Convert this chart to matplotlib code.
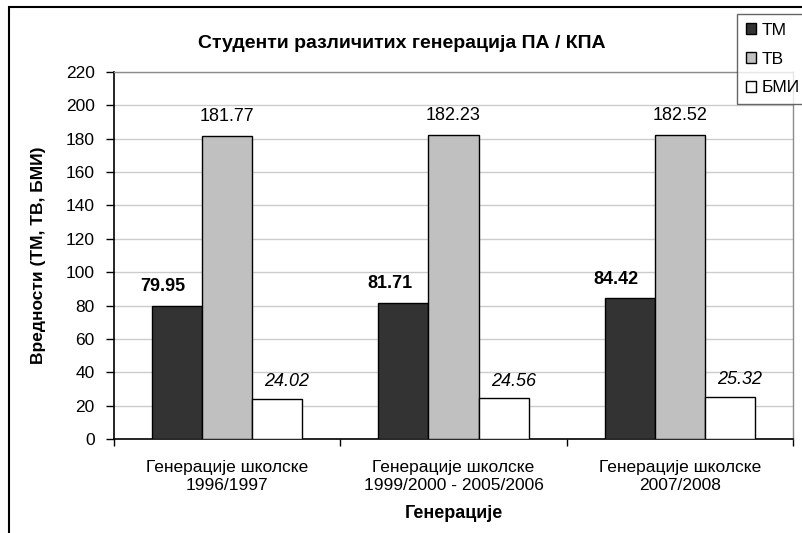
import matplotlib
matplotlib.use('Agg')
import matplotlib.pyplot as plt
import numpy as np
from matplotlib.patches import Rectangle

plt.rcParams['font.family'] = ['Liberation Sans', 'DejaVu Sans']

categories = ['Генерације школске\n1996/1997',
              'Генерације школске\n1999/2000 - 2005/2006',
              'Генерације школске\n2007/2008']
tm = [79.95, 81.71, 84.42]
tv = [181.77, 182.23, 182.52]
bmi = [24.02, 24.56, 25.32]
series_names = ['ТМ', 'ТВ', 'БМИ']
yticks = np.arange(0, 221, 20)

fig = plt.figure(figsize=(8.02, 5.33), dpi=100)
ax = fig.add_axes([114/802, 1-439/533, (793-114)/802, (439-72)/533])

x = np.arange(len(categories))
w = 0.221
b1 = ax.bar(x - w, tm, w, color='#333333', edgecolor='black', linewidth=1, label=series_names[0], zorder=3)
b2 = ax.bar(x, tv, w, color='#c0c0c0', edgecolor='black', linewidth=1, label=series_names[1], zorder=3)
b3 = ax.bar(x + w, bmi, w, color='white', edgecolor='black', linewidth=1, label=series_names[2], zorder=3)

# value labels
for xi, v in zip(x, tm):
    ax.annotate(f'{v:.2f}', (xi - w, v), xytext=(-10, 10.5), textcoords='offset points',
                ha='center', va='baseline', fontsize=13, fontweight='bold')
for xi, v in zip(x, tv):
    ax.annotate(f'{v:.2f}', (xi, v), xytext=(0, 10.5), textcoords='offset points',
                ha='center', va='baseline', fontsize=13)
for xi, v in zip(x, bmi):
    ax.annotate(f'{v:.2f}', (xi + w, v), xytext=(7, 9), textcoords='offset points',
                ha='center', va='baseline', fontsize=13, style='italic')

ax.set_xlim(-0.5, 2.5)
ax.set_ylim(0, 220)
ax.set_yticks(yticks)
ax.set_xticks([-0.5, 0.5, 1.5, 2.5])
ax.set_xticklabels([])
ax.set_xticks(x, minor=True)
ax.set_xticklabels(categories, minor=True, fontsize=12.5, linespacing=1.3)
ax.tick_params(axis='x', which='minor', length=0, pad=15)
ax.tick_params(axis='x', which='major', length=5, width=1, direction='out')
ax.tick_params(axis='y', length=6, width=1, direction='out', labelsize=12.5, pad=8)
ax.yaxis.grid(True, color='#cccccc', linewidth=1, zorder=0)

for s in ['left', 'bottom']:
    ax.spines[s].set_color('black')
    ax.spines[s].set_linewidth(1.2)
for s in ['top', 'right']:
    ax.spines[s].set_color('#8c8c8c')
    ax.spines[s].set_linewidth(1)

ax.set_xlabel('Генерације', fontsize=13, fontweight='bold', labelpad=8)
ax.set_ylabel('Вредности (ТМ, ТВ, БМИ)', fontsize=12.5, fontweight='bold', labelpad=14)
fig.text(402/802, 1-44/533, 'Студенти различитих генерација ПА / КПА',
         ha='center', va='center', fontsize=14, fontweight='bold')

leg = fig.legend(handles=[b1, b2, b3], loc='upper left', bbox_to_anchor=(737/802, 1-14/533),
                 fontsize=12.5, frameon=True, fancybox=False, handlelength=0.6, handleheight=0.6,
                 handletextpad=0.3, labelspacing=0.8, borderpad=0.5, borderaxespad=0)
leg.get_frame().set_edgecolor('#404040')
leg.get_frame().set_linewidth(1)

fig.patches.append(Rectangle((9/802, -0.1), 1.5, 1.1 - 7/533, transform=fig.transFigure,
                             fill=False, edgecolor='black', linewidth=1.5))

fig.savefig('out.png', dpi=100)
